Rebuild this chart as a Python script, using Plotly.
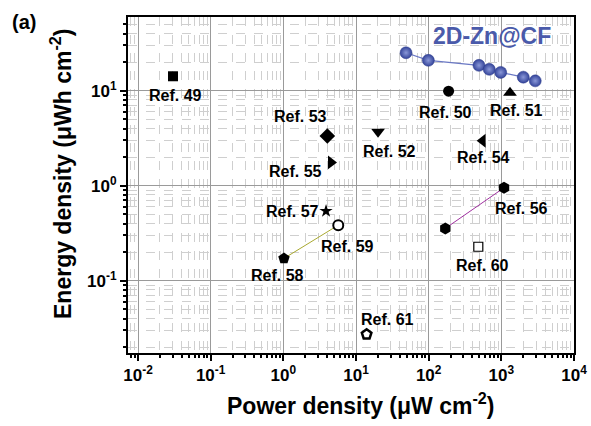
import numpy as np
import plotly.graph_objects as go

# ---------------- data ----------------
zn_power = [48.8, 99, 492, 682, 980, 2005, 2930]
zn_energy = [25.1, 20.9, 18.5, 16.8, 15.6, 13.9, 12.7]

ref_names = ["Ref. 49", "Ref. 50", "Ref. 51", "Ref. 52", "Ref. 53", "Ref. 54",
             "Ref. 55", "Ref. 57", "Ref. 60", "Ref. 61"]
ref_power = [0.0303, 188, 1315, 20.1, 4.03, 553, 4.53, 3.87, 482, 14.0]
ref_energy = [14.2, 9.9, 9.5, 3.7, 3.34, 2.98, 1.76, 0.542, 0.228, 0.0273]

ref56_power = [169.5, 1089]
ref56_energy = [0.356, 0.953]
ref58_59_power = [1.02, 5.7]
ref58_59_energy = [0.172, 0.385]

x_tickvals = [0.01, 0.1, 1, 10, 100, 1000, 10000]
x_ticktext = ["10<sup>-2</sup>", "10<sup>-1</sup>", "10<sup>0</sup>", "10<sup>1</sup>",
              "10<sup>2</sup>", "10<sup>3</sup>", "10<sup>4</sup>"]
y_tickvals = [0.1, 1, 10]
y_ticktext = ["10<sup>-1</sup>", "10<sup>0</sup>", "10<sup>1</sup>"]

x_title = "Power density (\u03bcW cm<sup>-2</sup>)"
y_title = "Energy density (\u03bcWh cm<sup>-2</sup>)"

# ---------------- styles ----------------
ref_symbols = ["square", "circle", "triangle-up", "triangle-down", "diamond",
               "triangle-left", "triangle-right", "star", "square", "pentagon"]
ref_fill = ["black", "black", "black", "black", "black", "black", "black",
            "black", "white", "white"]
ref_sizes = [10, 11, 12, 12, 12, 12, 12, 10, 9, 10]
# label offsets in pixels (dx, dy up-positive)
ref_label_off = [(3, -19), (-3, -21), (7, -18), (11, -20), (-27, 19), (1, -17),
                 (-36, -9), (-34, 0), (4, -19), (21, 15)]

FONT = "Liberation Sans, Arial, sans-serif"
W, H = 591, 426
ML, MR, MT, MB = 128, 17, 17, 73
pw, ph = W - ML - MR, H - MT - MB


def px2paper(px, py):
    return (px - ML) / pw, (H - MB - py) / ph


fig = go.Figure()

# 2D-Zn@CF series
fig.add_trace(go.Scatter(
    x=zn_power, y=zn_energy, mode="lines+markers",
    line=dict(color="#6a78c4", width=1.2),
    marker=dict(symbol="circle", size=12, color="#34449a",
                gradient=dict(type="radial", color="#8a98d8"),
                line=dict(color="#2a3a8a", width=0.5)),
    showlegend=False))

# Ref 56 pair
fig.add_trace(go.Scatter(
    x=ref56_power, y=ref56_energy, mode="lines+markers",
    line=dict(color="#a030a0", width=1),
    marker=dict(symbol="hexagon", size=12, color="black"),
    showlegend=False))

# Ref 58 - 59 pair
fig.add_trace(go.Scatter(
    x=ref58_59_power, y=ref58_59_energy, mode="lines",
    line=dict(color="#a8a830", width=1), showlegend=False))
fig.add_trace(go.Scatter(
    x=ref58_59_power[:1], y=ref58_59_energy[:1], mode="markers",
    marker=dict(symbol="pentagon", size=12, color="black"), showlegend=False))
fig.add_trace(go.Scatter(
    x=ref58_59_power[1:], y=ref58_59_energy[1:], mode="markers",
    marker=dict(symbol="circle", size=10, color="white",
                line=dict(color="black", width=2)), showlegend=False))

# single reference points
for i in range(len(ref_names)):
    lw = 1.2 if ref_fill[i] == "white" else 0
    if i == len(ref_names) - 1:
        lw = 2.5
    fig.add_trace(go.Scatter(
        x=[ref_power[i]], y=[ref_energy[i]], mode="markers",
        marker=dict(symbol=ref_symbols[i], size=ref_sizes[i], color=ref_fill[i],
                    line=dict(color="black", width=lw)),
        showlegend=False))

annotations = []
label_font = dict(family=FONT, size=16, color="black", weight="bold")
for i, name in enumerate(ref_names):
    dx, dy = ref_label_off[i]
    annotations.append(dict(x=np.log10(ref_power[i]), y=np.log10(ref_energy[i]),
                            xref="x", yref="y", text=name, showarrow=False,
                            xshift=dx, yshift=dy, font=label_font))
annotations.append(dict(x=np.log10(ref56_power[1]), y=np.log10(ref56_energy[1]),
                        xref="x", yref="y", text="Ref. 56", showarrow=False,
                        xshift=17, yshift=-21, font=label_font))
annotations.append(dict(x=np.log10(ref58_59_power[0]), y=np.log10(ref58_59_energy[0]),
                        xref="x", yref="y", text="Ref. 58", showarrow=False,
                        xshift=-6, yshift=-17, font=label_font))
annotations.append(dict(x=np.log10(ref58_59_power[1]), y=np.log10(ref58_59_energy[1]),
                        xref="x", yref="y", text="Ref. 59", showarrow=False,
                        xshift=9, yshift=-21, font=label_font))


def paper_text(text, px, py, size, color="black", angle=0):
    ax_, ay_ = px2paper(px, py)
    return dict(x=ax_, y=ay_, xref="paper", yref="paper", xanchor="center",
                yanchor="middle", text=text, showarrow=False, textangle=angle,
                font=dict(family=FONT, size=size, color=color, weight="bold"))


annotations.append(paper_text("2D-Zn@CF", 492, 36, 23, "#4a5aaa"))
annotations.append(paper_text("(a)", 24, 22, 20))
annotations.append(paper_text(x_title, 360, 404, 23))
annotations.append(paper_text(y_title, 61, 174, 23, angle=-90))

x_minor = [m * 10.0 ** d for d in range(-3, 4) for m in range(2, 10)]
y_minor = [m * 10.0 ** d for d in range(-2, 2) for m in range(2, 10)]

axis_common = dict(
    type="log", showline=True, linecolor="black", linewidth=2, mirror=True,
    ticks="outside", ticklen=6, tickwidth=1.5, tickcolor="black",
    showgrid=True, gridcolor="#9a9a9a", gridwidth=1, zeroline=False,
    tickfont=dict(family=FONT, size=17, color="black", weight="bold"),
    tickmode="array", automargin=False,
)
minor_common = dict(tickmode="array", ticks="outside", ticklen=3, tickcolor="black",
                    showgrid=True, gridcolor="#cfcfcf", griddash="dash", gridwidth=1)

fig.update_layout(
    width=W, height=H,
    margin=dict(l=ML, r=MR, t=MT, b=MB),
    paper_bgcolor="white", plot_bgcolor="white",
    annotations=annotations,
    xaxis=dict(**axis_common, range=[-2.1376, 4], tickvals=x_tickvals, ticktext=x_ticktext,
               minor=dict(**minor_common, tickvals=x_minor)),
    yaxis=dict(**axis_common, range=[-1.76, 1.776], tickvals=y_tickvals, ticktext=y_ticktext,
               minor=dict(**minor_common, tickvals=y_minor)),
)

fig.write_html("out.html", config={"displayModeBar": False},
               post_script="document.body.style.margin='0px';"
                           "document.body.style.overflow='hidden';")
